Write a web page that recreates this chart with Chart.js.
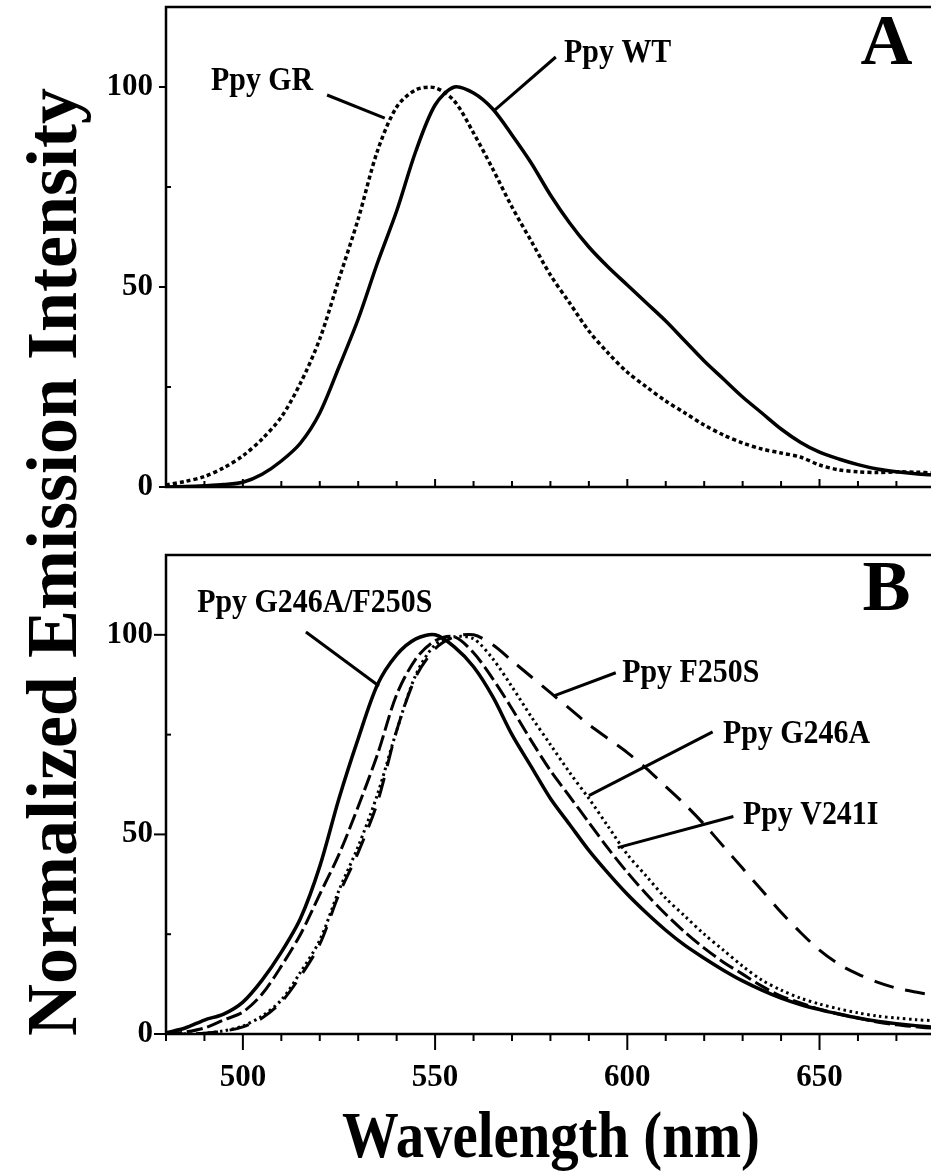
<!DOCTYPE html>
<html>
<head>
<meta charset="utf-8">
<script src="https://cdn.jsdelivr.net/npm/chart.js@4.4.0/dist/chart.umd.min.js"></script>
<style>
  body { margin: 0; background: #fff; }
  #wrap { position: relative; width: 931px; height: 1174px; overflow: hidden; background: #fff; }
  #wrap canvas { position: absolute; left: 0; }
  #chartA { top: 0; }
  #chartB { top: 540px; }
  .title { position: absolute; font-family: 'Liberation Serif', 'Times New Roman', serif; font-weight: bold; color: #000; white-space: nowrap; line-height: 1; }
  #ytitle { font-size: 72px; left: 52px; top: 562px; transform: translate(-50%, -50%) rotate(-90deg); }
  #xtitle { font-size: 66px; left: 551px; top: 1135px; transform: translate(-50%, -50%) scaleX(0.86); }
</style>
</head>
<body>
<div id="wrap">
  <canvas id="chartA" width="931" height="500"></canvas>
  <canvas id="chartB" width="931" height="570"></canvas>
  <div class="title" id="ytitle">Normalized Emission Intensity</div>
  <div class="title" id="xtitle">Wavelength (nm)</div>
</div>
<script>
// wavelength grid (nm), shared by every curve
const wavelengths = [480, 485, 490, 495, 500, 505, 510, 515, 520, 525,
  530, 535, 540, 545, 550, 555, 560, 565, 570, 575,
  580, 585, 590, 595, 600, 605, 610, 615, 620, 625,
  630, 635, 640, 645, 650, 655, 660, 665, 670, 675, 680];

// panel A
const wtA = [0, 0.1, 0.3, 0.6, 1.2, 3.2, 6.5, 11, 18.5, 30,
  42, 56, 69, 84, 95.5, 100, 98.5, 94.5, 88, 81,
  73, 66, 60, 55, 50.5, 46, 41.5, 36.5, 31.5, 27,
  22.5, 18.5, 14.5, 11.2, 8.7, 7, 5.6, 4.5, 3.8, 3.3, 3];
const grA = [0.5, 1.4, 2.6, 4.8, 7.8, 12, 17.5, 26, 37, 52,
  67, 84, 95, 99.3, 99.8, 96.5, 88.5, 79.5, 70, 61.5,
  53, 46, 39, 33.5, 28.7, 25, 21.5, 18.5, 15.5, 13,
  11, 9.5, 8.5, 7.5, 5.5, 4.3, 3.8, 3.6, 3.8, 3.7, 3.5];

// panel B
const dblB = [0.3, 1.5, 3.5, 5, 8, 13.5, 20.5, 29, 42, 59,
  74, 87.5, 95, 99, 100, 97, 92, 84.5, 75, 67,
  59, 52.5, 46, 40.3, 35, 30.3, 26, 22.2, 19, 16,
  13.3, 11, 9, 7.4, 6.1, 5, 4, 3.2, 2.6, 2.1, 1.7];
const f250sB = [0, 0, 0.2, 0.7, 1.8, 4, 8, 14.5, 22.5, 35,
  45.5, 58, 76, 89.5, 96.5, 99.5, 100, 97.5, 93.5, 89.5,
  85.5, 81.5, 77.5, 74, 70.5, 66.5, 62, 57.5, 52.5, 47,
  41.5, 36, 30.5, 25.5, 21, 17.5, 15, 13, 11.5, 10.5, 9.7];
const g246aB = [0, 0.5, 1.5, 3.5, 5.5, 10, 17, 25, 35, 45,
  57, 70, 85, 94, 98.5, 99.5, 95.5, 89, 81.5, 73.5,
  66, 59.5, 53, 46.5, 40.5, 35, 30, 25.5, 21.5, 18,
  15, 12, 9.5, 7.8, 6.2, 5, 4, 3, 2.3, 1.8, 1.4];
const v241iB = [0, 0, 0.2, 0.8, 2, 4.5, 8.5, 15.5, 23.5, 36,
  47, 60, 76, 90, 97.5, 99.5, 99, 94, 87, 79.5,
  72.5, 65.5, 59, 52, 45, 39.5, 34, 29.5, 25, 21,
  17, 13.5, 11, 9, 7.5, 6.3, 5.3, 4.5, 4, 3.6, 3.3];

const xTicks = [480, 490, 500, 510, 520, 530, 540, 550, 560, 570, 580, 590, 600, 610, 620, 630, 640, 650, 660, 670];
const yTicks = [0, 50, 100];
const yMinor = [25, 75];

const FONT = "'Liberation Serif', 'Times New Roman', serif";

function pts(vals) {
  return wavelengths.map((w, i) => ({ x: w, y: vals[i] }));
}

function line(label, vals, dash, width) {
  return {
    label,
    data: pts(vals),
    borderColor: '#000',
    borderWidth: width,
    borderDash: dash,
    pointRadius: 0,
    fill: false,
    tension: 0.3
  };
}

// axes, frame and tick marks
const frame = {
  id: 'frame',
  afterDatasetsDraw(chart, args, o) {
    const { ctx, chartArea: a, scales: { x, y } } = chart;
    ctx.save();
    ctx.strokeStyle = '#000';
    ctx.lineWidth = 2.5;
    ctx.beginPath();
    ctx.moveTo(a.right + 2, a.top);
    ctx.lineTo(a.left, a.top);
    ctx.lineTo(a.left, a.bottom);
    ctx.lineTo(a.right + 2, a.bottom);
    ctx.stroke();
    ctx.lineWidth = 2;
    x.ticks.forEach(t => {
      const px = x.getPixelForValue(t.value);
      const len = t.value % 50 === 0 ? o.xMajor : o.xMinor;
      ctx.beginPath();
      ctx.moveTo(px, a.bottom);
      ctx.lineTo(px, a.bottom + o.xDir * len);
      ctx.stroke();
    });
    yTicks.forEach(v => {
      const py = y.getPixelForValue(v);
      ctx.beginPath();
      ctx.moveTo(a.left, py);
      ctx.lineTo(a.left - o.yMajor, py);
      ctx.stroke();
    });
    yMinor.forEach(v => {
      const py = y.getPixelForValue(v);
      ctx.beginPath();
      ctx.moveTo(a.left, py);
      ctx.lineTo(a.left + 5, py);
      ctx.stroke();
    });
    ctx.restore();
  }
};

// leader labels and panel letter
const notes = {
  id: 'notes',
  afterDatasetsDraw(chart, args, o) {
    const { ctx, scales: { x, y } } = chart;
    ctx.save();
    ctx.fillStyle = '#000';
    ctx.strokeStyle = '#000';
    ctx.lineWidth = 3;
    ctx.textAlign = 'center';
    ctx.textBaseline = 'middle';
    o.items.forEach(n => {
      ctx.beginPath();
      ctx.moveTo(x.getPixelForValue(n.from[0]), y.getPixelForValue(n.from[1]));
      ctx.lineTo(x.getPixelForValue(n.to[0]), y.getPixelForValue(n.to[1]));
      ctx.stroke();
      ctx.save();
      ctx.translate(x.getPixelForValue(n.at[0]), y.getPixelForValue(n.at[1]));
      ctx.scale(0.88, 1);
      ctx.font = 'bold 34px ' + FONT;
      ctx.fillText(n.text, 0, 0);
      ctx.restore();
    });
    ctx.font = 'bold 72px ' + FONT;
    ctx.fillText(o.letter, x.getPixelForValue(o.letterAt[0]), y.getPixelForValue(o.letterAt[1]));
    ctx.restore();
  }
};

function makeOptions(showX, xAxisHeight, padTop) {
  return {
    responsive: false,
    animation: false,
    devicePixelRatio: 1,
    layout: { padding: { top: padTop, right: 0, bottom: 0, left: 0 } },
    plugins: { legend: { display: false }, tooltip: { enabled: false } },
    scales: {
      x: {
        type: 'linear',
        min: 480,
        max: 679,
        afterBuildTicks: s => { s.ticks = xTicks.map(v => ({ value: v })); },
        afterFit: s => {
          s.height = xAxisHeight;
          s.paddingLeft = 0;
          s.paddingRight = 0;
        },
        grid: { display: false, drawTicks: false },
        border: { display: false },
        ticks: {
          display: showX,
          autoSkip: false,
          maxRotation: 0,
          minRotation: 0,
          padding: 25,
          color: '#000',
          font: { family: FONT, size: 31, weight: 'bold' },
          callback: v => (v % 50 === 0 ? v : '')
        }
      },
      y: {
        min: 0,
        max: 120,
        afterBuildTicks: s => { s.ticks = yTicks.map(v => ({ value: v })); },
        afterFit: s => {
          s.width = 166;
          s.paddingTop = 0;
          s.paddingBottom = 0;
        },
        grid: { display: false, drawTicks: false },
        border: { display: false },
        ticks: {
          padding: 13,
          color: '#000',
          font: { family: FONT, size: 31, weight: 'bold' }
        }
      }
    }
  };
}

const optA = makeOptions(false, 13, 7);
optA.plugins.frame = { xDir: -1, xMajor: 8, xMinor: 6, yMajor: 7 };
optA.plugins.notes = {
  letter: 'A',
  letterAt: [667.4, 110.5],
  items: [
    { text: 'Ppy GR', at: [505, 101.5], from: [521.9, 98], to: [536.9, 92.2] },
    { text: 'Ppy WT', at: [597.5, 108.5], from: [581.4, 107.5], to: [565.5, 94.2] }
  ]
};

new Chart(document.getElementById('chartA'), {
  type: 'line',
  data: {
    datasets: [
      line('Ppy WT', wtA, [], 3.5),
      line('Ppy GR', grA, [4, 3], 3.5)
    ]
  },
  options: optA,
  plugins: [frame, notes]
});

const optB = makeOptions(true, 76, 15);
optB.plugins.frame = { xDir: 1, xMajor: 16, xMinor: 7, yMajor: 12 };
optB.plugins.notes = {
  letter: 'B',
  letterAt: [667.4, 110.8],
  items: [
    { text: 'Ppy G246A/F250S', at: [518.7, 107.8], from: [516.4, 100.7], to: [535.4, 87.2] },
    { text: 'Ppy F250S', at: [616.5, 90.5], from: [597, 90.5], to: [580.9, 84.7] },
    { text: 'Ppy G246A', at: [644, 75.2], from: [622.2, 75.7], to: [590, 59.7] },
    { text: 'Ppy V241I', at: [647.7, 54.7], from: [627.6, 54.5], to: [597.5, 46.7] }
  ]
};

new Chart(document.getElementById('chartB'), {
  type: 'line',
  data: {
    datasets: [
      line('Ppy G246A/F250S', dblB, [], 3.5),
      line('Ppy F250S', f250sB, [20, 12], 3),
      line('Ppy G246A', g246aB, [16, 5], 3),
      line('Ppy V241I', v241iB, [2.5, 3.5], 3)
    ]
  },
  options: optB,
  plugins: [frame, notes]
});
</script>
</body>
</html>
